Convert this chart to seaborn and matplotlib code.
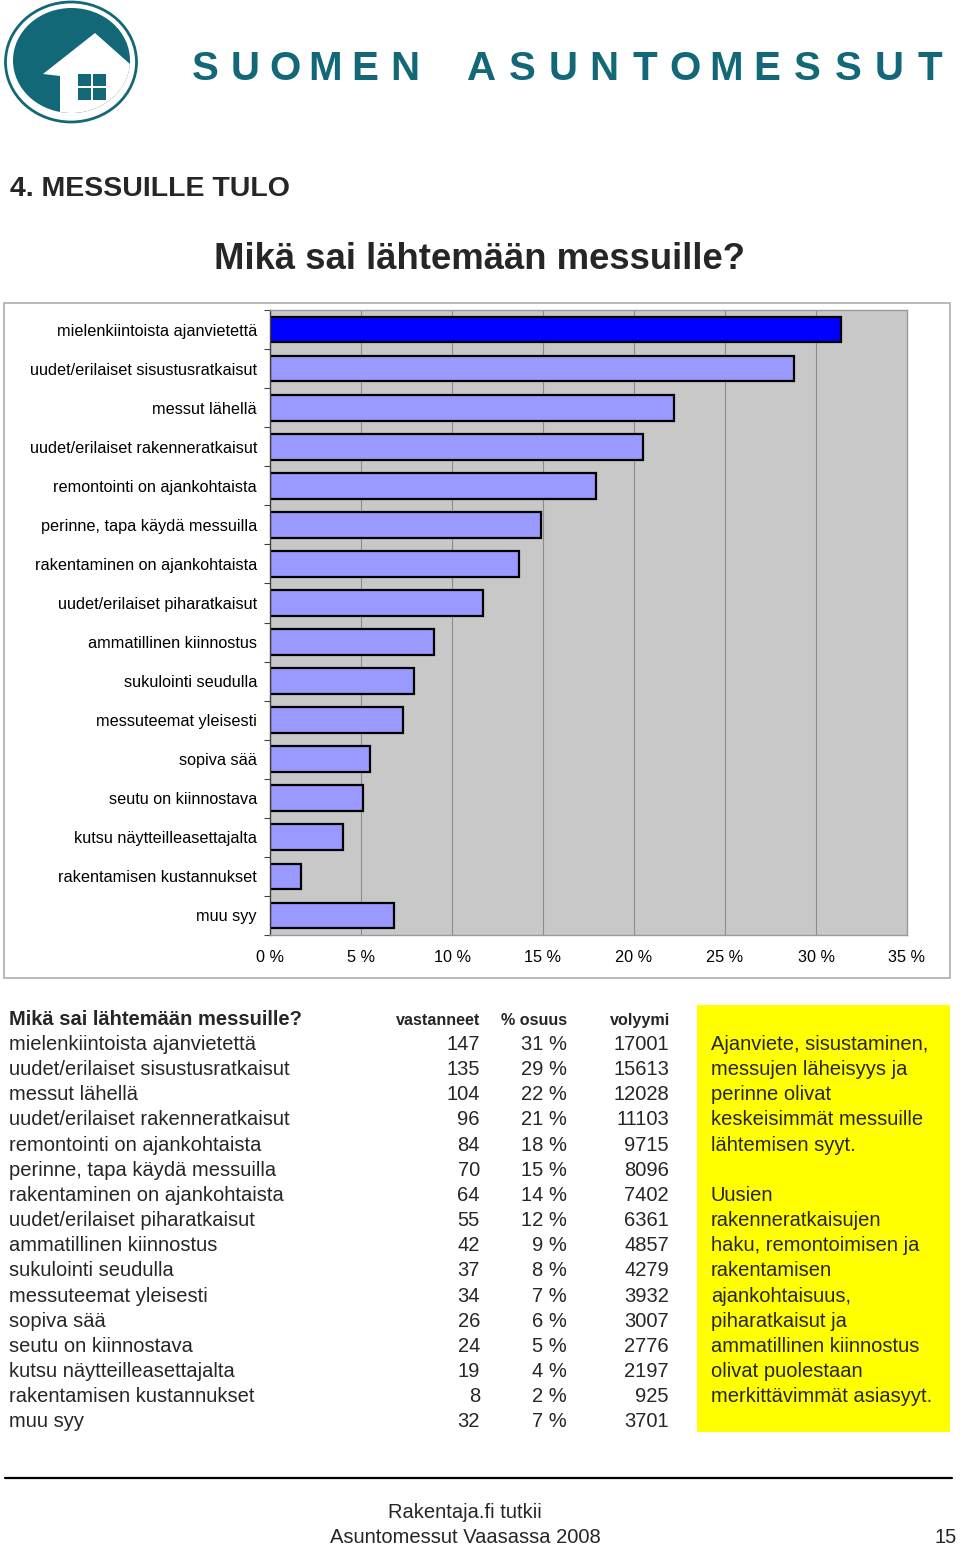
import matplotlib
matplotlib.use("Agg")
import matplotlib.pyplot as plt
import seaborn as sns
import pandas as pd
import numpy as np
from matplotlib.patches import Ellipse, Polygon, Rectangle
from matplotlib.ticker import FixedLocator, FuncFormatter

# ---------------- data ----------------
categories = [
    "mielenkiintoista ajanvietettä",
    "uudet/erilaiset sisustusratkaisut",
    "messut lähellä",
    "uudet/erilaiset rakenneratkaisut",
    "remontointi on ajankohtaista",
    "perinne, tapa käydä messuilla",
    "rakentaminen on ajankohtaista",
    "uudet/erilaiset piharatkaisut",
    "ammatillinen kiinnostus",
    "sukulointi seudulla",
    "messuteemat yleisesti",
    "sopiva sää",
    "seutu on kiinnostava",
    "kutsu näytteilleasettajalta",
    "rakentamisen kustannukset",
    "muu syy",
]
bar_share = [31.4, 28.8, 22.2, 20.5, 17.9, 14.9, 13.7, 11.7, 9.0, 7.9, 7.3, 5.5, 5.1, 4.0, 1.7, 6.8]
respondents = [147, 135, 104, 96, 84, 70, 64, 55, 42, 37, 34, 26, 24, 19, 8, 32]
share_pct = [31, 29, 22, 21, 18, 15, 14, 12, 9, 8, 7, 6, 5, 4, 2, 7]
volume = [17001, 15613, 12028, 11103, 9715, 8096, 7402, 6361, 4857, 4279, 3932, 3007, 2776, 2197, 925, 3701]
x_ticks = [0, 5, 10, 15, 20, 25, 30, 35]
table_header = ["Mikä sai lähtemään messuille?", "vastanneet", "% osuus", "volyymi"]
note_lines = [
    "Ajanviete, sisustaminen,",
    "messujen läheisyys ja",
    "perinne olivat",
    "keskeisimmät messuille",
    "lähtemisen syyt.",
    "",
    "Uusien",
    "rakenneratkaisujen",
    "haku, remontoimisen ja",
    "rakentamisen",
    "ajankohtaisuus,",
    "piharatkaisut ja",
    "ammatillinen kiinnostus",
    "olivat puolestaan",
    "merkittävimmät asiasyyt.",
]

# ---------------- style ----------------
sns.set_theme(style="white")
plt.rcParams["font.family"] = ["Liberation Sans", "DejaVu Sans"]

W, H = 960, 1545
fig = plt.figure(figsize=(W / 100, H / 100), dpi=100)
fig.patch.set_facecolor("white")

# background axes in pixel coordinates
bg = fig.add_axes([0, 0, 1, 1], zorder=0)
bg.set_xlim(0, W)
bg.set_ylim(H, 0)
bg.axis("off")

teal = "#136878"

# ---- logo ----
bg.add_patch(Ellipse((71, 62), 131, 120, facecolor="none", edgecolor=teal, lw=2.0))
disk = Ellipse((71.5, 60.5), 117, 105, facecolor=teal, edgecolor="none")
bg.add_patch(disk)
house = Polygon([(95, 33), (140, 73), (140, 140), (60, 140), (60, 76), (43, 74)],
                closed=True, facecolor="white", edgecolor="none")
bg.add_patch(house)
house.set_clip_path(disk)
for (wx, wy) in [(78, 74), (93, 74), (78, 88), (93, 88)]:
    bg.add_patch(Rectangle((wx, wy), 13, 12, facecolor=teal, edgecolor="none"))

for i, ch in enumerate("SUOMEN"):
    bg.text(205 + 40 * i, 80, ch, fontsize=29, fontweight="bold", color=teal,
            ha="center", va="baseline")
for i, ch in enumerate("ASUNTOMESSUT"):
    bg.text(482 + 40.7 * i, 80, ch, fontsize=29, fontweight="bold", color=teal,
            ha="center", va="baseline")

# ---- titles ----
bg.text(10, 196, "4. MESSUILLE TULO", fontsize=20.5, fontweight="bold", ha="left", va="baseline")
bg.text(480, 269, "Mikä sai lähtemään messuille?", fontsize=26.3, fontweight="bold",
        ha="center", va="baseline")

# ---- chart frame ----
bg.add_patch(Rectangle((4, 303), 946, 675, facecolor="white", edgecolor="#B4B4B4", lw=1.3))

# ---------------- chart ----------------
ax = fig.add_axes([270 / W, 1 - 935 / H, 637 / W, 625 / H], zorder=2)
df = pd.DataFrame({"cat": categories, "share": bar_share})
colors = ["#0000FF"] + ["#9999FF"] * (len(categories) - 1)
sns.barplot(data=df, x="share", y="cat", hue="cat", palette=colors, legend=False,
            orient="h", width=0.66, edgecolor="black", linewidth=1.6,
            saturation=1, ax=ax)
ax.set_facecolor("#C8C8C8")
ax.set_xlim(0, 35)
ax.set_ylim(len(categories) - 0.5, -0.5)
ax.set_xticks(x_ticks)
ax.xaxis.set_major_formatter(FuncFormatter(lambda v, p: f"{int(v)} %"))
ax.xaxis.grid(True, color="#8C8C8C", lw=0.8)
ax.yaxis.grid(False)
ax.set_axisbelow(True)
ax.set_xlabel("")
ax.set_ylabel("")
for s in ["top", "right", "bottom"]:
    ax.spines[s].set_color("#9A9A9A")
    ax.spines[s].set_linewidth(1.0)
ax.spines["left"].set_color("#404040")
ax.spines["left"].set_linewidth(1.0)
ax.tick_params(axis="x", length=0, pad=11, labelsize=11.7, colors="black")
ax.tick_params(axis="y", which="major", length=0, pad=9.4, labelsize=11.7, colors="black")
ax.yaxis.set_minor_locator(FixedLocator(np.arange(-0.5, len(categories), 1)))
ax.tick_params(axis="y", which="minor", left=True, length=4, width=0.8, color="#404040")

# ---------------- table ----------------
y0 = 1050
dy = 25.15
bg.text(9, 1025, table_header[0], fontsize=14.5, fontweight="bold", ha="left", va="baseline")
bg.text(480, 1025, table_header[1], fontsize=11.6, fontweight="bold", ha="right", va="baseline")
bg.text(567, 1025, table_header[2], fontsize=11.6, fontweight="bold", ha="right", va="baseline")
bg.text(670, 1025, table_header[3], fontsize=11.6, fontweight="bold", ha="right", va="baseline")
for i, cat in enumerate(categories):
    yy = y0 + i * dy
    bg.text(9, yy, cat, fontsize=14.5, ha="left", va="baseline")
    bg.text(480, yy, f"{respondents[i]}", fontsize=14.5, ha="right", va="baseline")
    bg.text(567, yy, f"{share_pct[i]} %", fontsize=14.5, ha="right", va="baseline")
    bg.text(669, yy, f"{volume[i]}", fontsize=14.5, ha="right", va="baseline")

# ---- yellow note ----
bg.add_patch(Rectangle((697, 1005), 253, 427, facecolor="#FFFF00", edgecolor="none"))
for i, line in enumerate(note_lines):
    if line:
        bg.text(711, y0 + i * dy, line, fontsize=14.5, ha="left", va="baseline")

# ---- footer ----
bg.plot([5, 952], [1478, 1478], color="black", lw=1.6)
bg.text(465, 1518, "Rakentaja.fi tutkii", fontsize=14.5, ha="center", va="baseline")
bg.text(465, 1543, "Asuntomessut Vaasassa 2008", fontsize=14.5, ha="center", va="baseline")
bg.text(957, 1543, "15", fontsize=14.5, ha="right", va="baseline")

fig.savefig("out.png", dpi=100, facecolor="white")
